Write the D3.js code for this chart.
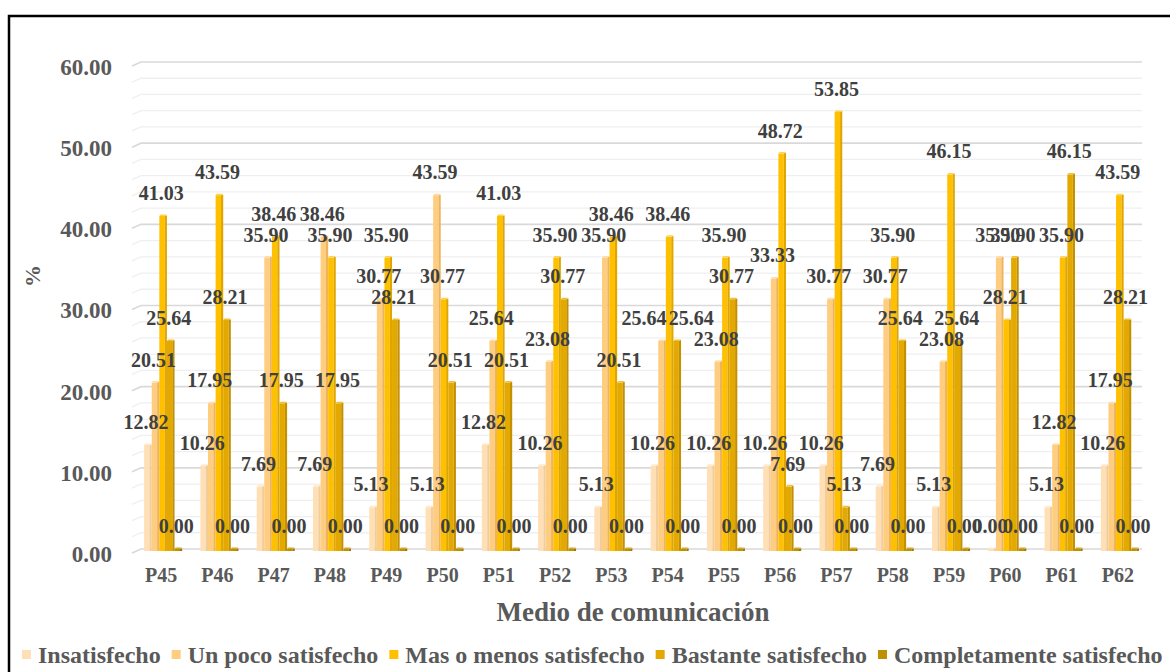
<!DOCTYPE html>
<html><head><meta charset="utf-8">
<script src="https://cdn.jsdelivr.net/npm/d3@7"></script>
<style>body{margin:0;background:#fff;}</style></head>
<body><svg id="c" width="1170" height="672"></svg>
<script>
const categories = ["P45","P46","P47","P48","P49","P50","P51","P52","P53","P54","P55","P56","P57","P58","P59","P60","P61","P62"];
const seriesNames = ["Insatisfecho","Un poco satisfecho","Mas o menos satisfecho","Bastante satisfecho","Completamente satisfecho"];
const insatisfecho = [12.82,10.26,7.69,7.69,5.13,5.13,12.82,10.26,5.13,10.26,10.26,10.26,10.26,7.69,5.13,0.00,5.13,10.26];
const unPoco = [20.51,17.95,35.90,38.46,30.77,43.59,25.64,23.08,35.90,25.64,23.08,33.33,30.77,30.77,23.08,35.90,12.82,17.95];
const masOMenos = [41.03,43.59,38.46,35.90,35.90,30.77,41.03,35.90,38.46,38.46,35.90,48.72,53.85,35.90,46.15,28.21,35.90,43.59];
const bastante = [25.64,28.21,17.95,17.95,28.21,20.51,20.51,30.77,20.51,25.64,30.77,7.69,5.13,25.64,25.64,35.90,46.15,28.21];
const completamente = [0,0,0,0,0,0,0,0,0,0,0,0,0,0,0,0,0,0];
const yTicks = [0,10,20,30,40,50,60];

const seriesValues = [insatisfecho, unPoco, masOMenos, bastante, completamente];
const fronts = ["#FFDFB5","#FFCD80","#FFC000","#E3A900","#BF9000"];
const sides  = ["#F2CD9C","#EDB45C","#E0A600","#C39000","#9E7600"];
const tops   = ["#FFE9CC","#FFDCA6","#FFD24D","#F0BF33","#D4A826"];
const FF = '"Liberation Serif", Tinos, "Times New Roman", serif';

function tx(sel, size){ return sel.style("font-family",FF).style("font-weight","bold").style("font-size",size+"px"); }

const svg = d3.select("#c");
svg.append("path").attr("d","M9,680 L9,16 L1175,16").attr("fill","none").attr("stroke","#000").attr("stroke-width",2.5);

const y = d3.scaleLinear().domain([0,60]).range([549,62]);
const x0 = d3.scaleBand().domain(categories).range([135,1148]).paddingInner(0.325).paddingOuter(0.1625);
const x1 = d3.scaleBand().domain(seriesNames).range([0,x0.bandwidth()]);

const g = svg.append("g");
d3.range(0,61,2).forEach(v=>{
  const yy = y(v);
  const major = v%10===0;
  g.append("path").attr("d",`M132,${yy+4} L141,${yy} L1142,${yy}`)
    .attr("fill","none").attr("stroke", major?"#D9D9D9":"#EFEFEF").attr("stroke-width", major?1.6:1.3);
});

const yAxis = d3.axisLeft(y).tickValues(yTicks).tickFormat(d3.format(".2f")).tickSize(0).tickPadding(0);
const ya = svg.append("g").attr("transform","translate(112,5)").call(yAxis);
ya.select(".domain").remove();
tx(ya.selectAll("text").attr("fill","#595959"), 23);

const xAxis = d3.axisBottom(x0).tickSize(0).tickPadding(0);
const xa = svg.append("g").attr("transform","translate(-2,568)").call(xAxis);
xa.select(".domain").remove();
tx(xa.selectAll("text").attr("fill","#595959"), 20);

const bw = x1.bandwidth();
const side = 2.2;
const bars = svg.append("g");
categories.forEach((c,i)=>{
  seriesNames.forEach((s,k)=>{
    const v = seriesValues[k][i];
    const bx = x0(c)+x1(s);
    const top = y(v), bot = y(0)+2;
    const gg = bars.append("g");
    gg.append("rect").attr("x",bx).attr("y",top).attr("width",bw-side).attr("height",Math.max(0,bot-top)).attr("fill",fronts[k]);
    gg.append("path").attr("d",`M${bx+bw-side},${top} L${bx+bw},${top-0.8} L${bx+bw},${bot} L${bx+bw-side},${bot}Z`).attr("fill",sides[k]);
    gg.append("path").attr("d",`M${bx},${top} L${bx+1.2},${top-1.5} L${bx+bw},${top-1.5} L${bx+bw-side},${top}Z`).attr("fill",tops[k]);
  });
});

const nudges = {"9-1":-16,"9-3":16};
const lab = svg.append("g");
categories.forEach((c,i)=>{
  seriesNames.forEach((s,k)=>{
    const v = seriesValues[k][i];
    const dx = nudges[i+"-"+k] || 0;
    tx(lab.append("text").attr("x",x0(c)+x1(s)+bw/2-2+dx).attr("y",y(v)-16)
      .attr("text-anchor","middle").attr("fill","#404040"), 20)
      .text(d3.format(".2f")(v));
  });
});

tx(svg.append("text").attr("x",633).attr("y",621).attr("text-anchor","middle").attr("fill","#595959"),27).text("Medio de comunicación");
tx(svg.append("text").attr("transform","translate(40,276) rotate(-90)").attr("text-anchor","middle").attr("fill","#595959"),22).text("%");

const leg = svg.append("g");
let lx = 22;
seriesNames.forEach((s,k)=>{
  leg.append("rect").attr("x",lx).attr("y",650).attr("width",9).attr("height",9).attr("fill",fronts[k]);
  const t = tx(leg.append("text").attr("x",lx+16).attr("y",663).attr("fill","#595959"),24).text(s);
  lx += 16 + t.node().getComputedTextLength() + 11;
});
</script></body></html>
